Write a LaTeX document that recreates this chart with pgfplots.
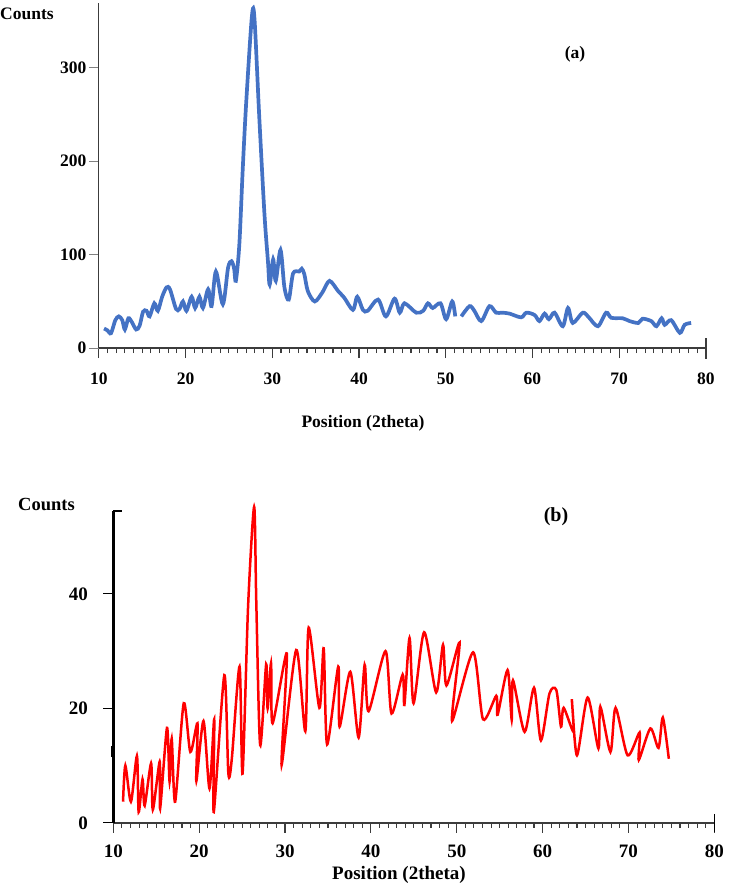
\documentclass[border=0pt]{standalone}
\usepackage{fontspec}
\setmainfont{Liberation Serif}
\usepackage{pgfplots}
\pgfplotsset{compat=1.18}
\definecolor{xrdblue}{RGB}{68,114,196}
\definecolor{axgray}{RGB}{60,60,60}

\begin{document}
\begin{tikzpicture}[x=1pt,y=1pt]
\useasboundingbox (0,0) rectangle (731,883);
\pgfplotsset{
  xrd/.style={
    scale only axis,
    xmin=10, xmax=80,
    xtick={10,20,...,80},
    minor x tick num=9,
    axis x line=bottom, axis y line=left,
    separate axis lines,
    axis line style={-},
    tick align=outside,
    major tick length=10pt, minor tick length=5pt,
    /pgf/number format/assume math mode=true,
    clip=false,
  }
}

% (a) top pattern
\begin{axis}[xrd, at={(114,572)}, anchor=south west,
  width=607pt, height=345pt,
  ymin=0, ymax=369, ytick={0,100,200,300},
  x axis line style={line width=1.6pt, draw=axgray},
  y axis line style={line width=1.2pt, draw=axgray},
  xtick style={line width=1.1pt, draw=axgray},
  ytick style={line width=0.8pt, draw=gray},
  ticklabel style={font=\fontsize{17.5}{20}\selectfont\bfseries},
  xticklabel shift=11.5pt, yticklabel shift=-1pt]
\addplot[xrdblue, line width=3.7pt, smooth, tension=0.5] coordinates {
 (10.6,21) (11.0,19) (11.4,16) (11.9,30) (12.3,34) (12.7,30) (13.0,20)
 (13.4,32) (13.8,28) (14.3,20) (14.7,24) (15.1,39) (15.5,40) (15.85,34)
 (16.4,48) (16.8,40) (17.3,55) (17.8,65) (18.2,63) (18.9,42) (19.3,42)
 (19.7,50) (20.1,40) (20.7,55) (21.1,43) (21.6,55) (22.0,43) (22.6,63)
 (23.0,45) (23.5,82) (24.3,47) (24.9,86) (25.3,93) (25.6,85) (25.8,72)
 (26.2,111) (26.6,193) (27.0,264) (27.65,355) (27.95,352) (28.5,247)
 (29.1,143) (29.5,93) (29.7,68) (30.1,95) (30.4,72) (30.95,105) (31.4,65)
 (31.9,52) (32.4,80) (33.1,82) (33.4,85) (33.7,79) (34.1,61) (34.9,50)
 (35.8,60) (36.6,72) (37.6,61) (38.3,54) (39.3,41) (39.8,55) (40.45,41)
 (41.0,40) (42.2,52) (43.1,34) (44.1,53) (44.7,38) (45.25,48) (46.6,38)
 (47.4,40) (47.95,48) (48.5,43) (49.4,48) (50.05,31) (50.75,50) (51.1,34)
};
\addplot[xrdblue, line width=3.7pt, smooth, tension=0.5] coordinates {
 (51.8,34) (52.75,45) (53.3,40) (54.1,29) (55.05,45) (55.8,38) (56.5,38)
 (57.35,37) (58.7,33) (59.3,38) (60.25,35.5) (60.8,29) (61.4,37) (61.9,31)
 (62.55,38) (63.5,23.5) (64.1,43) (64.65,27) (65.8,38) (66.5,33) (67.55,23.5)
 (68.5,38) (69.1,32.5) (70.4,32) (71.2,29) (72.2,27) (72.7,31.5) (73.7,29)
 (74.3,23.5) (74.9,32) (75.25,25) (76.0,30) (77.0,16.4) (77.55,25) (78.3,27)
};
\draw[line width=1.4pt, axgray] ([yshift=10pt]axis cs:80,0) -- ([yshift=-11pt]axis cs:80,0);
\end{axis}

% (b) bottom pattern
\begin{axis}[xrd, at={(132,105)}, anchor=south west,
  width=601pt, height=312pt,
  ymin=0, ymax=54.5, ytick={0,20,40},
  x axis line style={line width=1.4pt, draw=axgray},
  y axis line style={line width=2.4pt, draw=black},
  xtick style={line width=1.1pt, draw=axgray},
  ytick style={line width=1pt, draw=black},
  ticklabel style={font=\fontsize{19}{22}\selectfont\bfseries},
  xticklabel shift=8pt, yticklabel shift=12pt]
\addplot[red, line width=2.5pt, smooth, tension=0.45] coordinates {
 (11.13,3.7) (11.4,10) (12.05,3.7) (12.75,11.7) (12.95,1.9) (13.4,7.6)
 (13.65,3) (14.4,10.4) (14.6,2.3) (15.4,10.7) (15.45,2.5) (16.25,16.6)
 (16.55,7.2) (16.8,14.7) (17.2,3.7) (18.2,20.9) (18.97,12.4) (19.8,17.4)
 (19.67,7.3) (20.5,17.8) (21.2,6) (21.75,18.1) (21.7,1.9) (22.93,25.8)
 (23.4,8.6) (23.8,11.2) (24.7,27.3) (25.05,8.6) (25.7,38) (26.4,55.2)
 (26.65,38.6) (27.1,13.6) (27.8,27.7) (27.97,20) (28.37,27.9) (28.55,17.4)
 (30.2,29.6) (29.6,10.1) (31.3,30.2) (32.36,16) (32.75,34.1) (34.0,20.1)
 (34.5,30.5) (34.9,13.7) (36.2,27.3) (36.35,16.8) (37.6,26.4) (38.57,14.9)
 (39.27,27.6) (39.73,19.5) (41.7,30) (42.4,19.1) (43.7,25.9) (43.9,20.6)
 (44.5,32.3) (44.97,20.9) (46.2,33.3) (47.6,22.8) (48.4,31.1) (48.8,24)
 (50.33,31.5) (49.45,17.8) (51.9,29.8) (53.06,18.1) (54.6,22.2) (54.76,18.9)
 (55.92,26.7) (56.4,18) (56.55,24.9) (57.9,15.9) (59.0,23.6) (59.8,14.4)
 (60.8,22.6) (61.6,23.2) (62.14,16.8) (62.45,20.1) (63.6,15.9) (63.4,21.6)
 (64.0,11.8) (65.24,21.9) (66.5,13) (66.72,20.3) (67.9,12.4) (68.5,20.1)
 (69.9,11.8) (71.3,15.8) (71.2,11) (72.55,16.5) (73.5,13.1) (74.0,18.4)
 (74.7,11.2)
};
\draw[line width=1.6pt, black] ([yshift=9pt]axis cs:80,0) -- ([yshift=-9pt]axis cs:80,0);
\draw[line width=2.4pt, black] (rel axis cs:0,1) -- ([xshift=9pt]rel axis cs:0,1);
\draw[line width=3.5pt, black] ([xshift=-1pt]axis cs:10,11.5) -- ([xshift=-1pt]axis cs:10,13.5);
\end{axis}

% titles and labels
\node[anchor=base west, inner sep=0pt, font=\fontsize{17.5}{20}\selectfont\bfseries] at (0,863) {Counts};
\node[inner sep=0pt, font=\fontsize{17.5}{20}\selectfont\bfseries] at (575,829) {(a)};
\node[anchor=base, inner sep=0pt, font=\fontsize{17.5}{20}\selectfont\bfseries] at (363,455) {Position (2theta)};
\node[anchor=base west, inner sep=0pt, font=\fontsize{18.5}{21}\selectfont\bfseries] at (18,372) {Counts};
\node[inner sep=0pt, font=\fontsize{20}{23}\selectfont\bfseries] at (556,366) {(b)};
\node[anchor=base, inner sep=0pt, font=\fontsize{19}{22}\selectfont\bfseries] at (399,3) {Position (2theta)};
\end{tikzpicture}
\end{document}
